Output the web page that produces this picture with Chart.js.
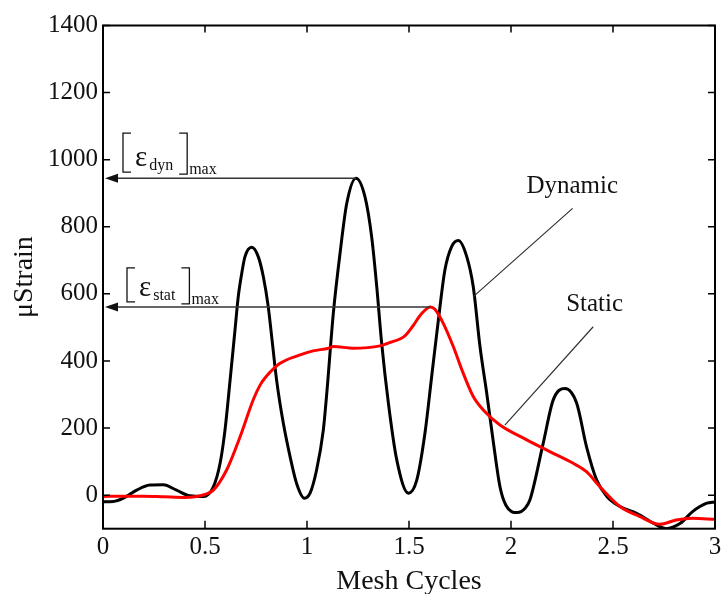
<!DOCTYPE html>
<html>
<head>
<meta charset="utf-8">
<script src="https://cdn.jsdelivr.net/npm/chart.js@4.4.1/dist/chart.umd.min.js"></script>
<style>
html, body { margin: 0; padding: 0; background: #fff; }
</style>
</head>
<body>
<canvas id="strainChart" width="721" height="594"></canvas>
<script>
// dynamic strain (black curve)
const dynX = [0, 0.05, 0.1, 0.165, 0.23, 0.296, 0.36, 0.426, 0.492, 0.541, 0.574, 0.598, 0.623, 0.647, 0.663, 0.68, 0.696, 0.729, 0.761, 0.786, 0.81, 0.827, 0.851, 0.884, 0.917, 0.949, 0.987, 1.015, 1.047, 1.08, 1.097, 1.129, 1.162, 1.195, 1.24, 1.284, 1.317, 1.342, 1.366, 1.399, 1.44, 1.497, 1.538, 1.578, 1.611, 1.644, 1.676, 1.709, 1.742, 1.783, 1.815, 1.848, 1.881, 1.913, 1.946, 1.975, 2.03, 2.069, 2.093, 2.158, 2.207, 2.265, 2.322, 2.37, 2.42, 2.47, 2.534, 2.616, 2.7, 2.76, 2.83, 2.89, 2.96, 3];
const dynY = [-20, -19, -9, 15, 30, 31, 15, -2, -4, 25, 95, 194, 343, 492, 592, 661, 711, 739, 711, 651, 562, 472, 343, 214, 115, 35, -9, 6, 75, 194, 304, 542, 721, 870, 945, 890, 770, 621, 453, 274, 105, 6, 45, 184, 353, 522, 671, 741, 759, 711, 621, 443, 304, 160, 25, -30, -52, -39, -14, 155, 284, 318, 274, 145, 45, -4, -34, -54, -84, -100, -84, -49, -24, -20];

// static strain (red curve)
const statX = [0, 0.1, 0.2, 0.3, 0.4, 0.45, 0.5, 0.541, 0.606, 0.672, 0.737, 0.77, 0.802, 0.868, 0.966, 1.03, 1.105, 1.129, 1.227, 1.358, 1.407, 1.48, 1.52, 1.56, 1.605, 1.627, 1.668, 1.717, 1.766, 1.815, 1.864, 1.946, 2.077, 2.19, 2.305, 2.37, 2.436, 2.534, 2.632, 2.73, 2.81, 2.89, 3];
const statY = [-4, -3, -3, -5, -7, -5, 2, 15, 75, 174, 285, 328, 355, 393, 418, 430, 438, 443, 438, 445, 455, 475, 505, 540, 561, 554, 512, 443, 363, 294, 254, 209, 165, 130, 95, 70, 25, -34, -64, -87, -74, -69, -72];

// axes
const xTicks = [0, 0.5, 1, 1.5, 2, 2.5, 3];
const xTickLabels = ["0", "0.5", "1", "1.5", "2", "2.5", "3"];
const yTicks = [0, 200, 400, 600, 800, 1000, 1200, 1400];
const yTickLabels = ["0", "200", "400", "600", "800", "1000", "1200", "1400"];

const serif = "'Liberation Serif', 'Times New Roman', serif";
const ink = "#111";

function pts(xs, ys) {
  return xs.map((x, i) => ({ x: x, y: ys[i] }));
}

// [eps_sub]_max label with bracket lines
function maxLabel(ctx, x0, yA, sub, top, bot) {
  ctx.save();
  ctx.strokeStyle = ink;
  ctx.fillStyle = ink;
  ctx.lineWidth = 1.3;
  // left bracket
  ctx.beginPath();
  ctx.moveTo(x0 + 8, yA + top);
  ctx.lineTo(x0, yA + top);
  ctx.lineTo(x0, yA + bot);
  ctx.lineTo(x0 + 8, yA + bot);
  ctx.stroke();
  let x = x0 + 12;
  ctx.textBaseline = "alphabetic";
  ctx.textAlign = "left";
  ctx.font = "29px " + serif;
  ctx.fillText("ε", x, yA + bot - 6);
  x += ctx.measureText("ε").width + 2;
  ctx.font = "16px " + serif;
  ctx.fillText(sub, x, yA + bot - 2);
  x += ctx.measureText(sub).width + 6;
  // right bracket
  ctx.beginPath();
  ctx.moveTo(x, yA + top);
  ctx.lineTo(x + 8, yA + top);
  ctx.lineTo(x + 8, yA + bot + 2);
  ctx.lineTo(x, yA + bot + 2);
  ctx.stroke();
  ctx.font = "16px " + serif;
  ctx.fillText("max", x + 10, yA + bot + 2);
  ctx.restore();
}

function arrowLeft(ctx, xFrom, xTip, y) {
  ctx.save();
  ctx.strokeStyle = "#333";
  ctx.fillStyle = "#111";
  ctx.lineWidth = 1.5;
  ctx.beginPath();
  ctx.moveTo(xFrom, y);
  ctx.lineTo(xTip + 10, y);
  ctx.stroke();
  ctx.beginPath();
  ctx.moveTo(xTip, y);
  ctx.lineTo(xTip + 13, y - 4.5);
  ctx.lineTo(xTip + 13, y + 4.5);
  ctx.closePath();
  ctx.fill();
  ctx.restore();
}

const framePlugin = {
  id: "frame",
  afterDatasetsDraw(chart) {
    const ctx = chart.ctx;
    const a = chart.chartArea;
    const xs = chart.scales.x, ys = chart.scales.y;

    // box
    ctx.save();
    ctx.strokeStyle = "#000";
    ctx.lineWidth = 2;
    ctx.strokeRect(a.left, a.top, a.right - a.left, a.bottom - a.top);

    // inner ticks on all sides
    ctx.lineWidth = 1.5;
    ctx.beginPath();
    xTicks.forEach(v => {
      const px = xs.getPixelForValue(v);
      ctx.moveTo(px, a.bottom); ctx.lineTo(px, a.bottom - 8);
      ctx.moveTo(px, a.top); ctx.lineTo(px, a.top + 7);
    });
    yTicks.forEach(v => {
      const py = ys.getPixelForValue(v);
      ctx.moveTo(a.left, py); ctx.lineTo(a.left + 7, py);
      ctx.moveTo(a.right, py); ctx.lineTo(a.right - 7, py);
    });
    ctx.stroke();
    ctx.restore();

    // max arrows
    const dMax = Math.max(...dynY), dAt = dynX[dynY.indexOf(dMax)];
    const sMax = Math.max(...statY), sAt = statX[statY.indexOf(sMax)];
    const yD = ys.getPixelForValue(dMax);
    const yS = ys.getPixelForValue(sMax);
    arrowLeft(ctx, xs.getPixelForValue(dAt), a.left + 2, yD);
    arrowLeft(ctx, xs.getPixelForValue(sAt), a.left + 2, yS);
    maxLabel(ctx, a.left + 20, yD, "dyn", -45, -6);
    maxLabel(ctx, a.left + 24, yS, "stat", -39, -5);

    // leader lines
    ctx.save();
    ctx.strokeStyle = "#333";
    ctx.lineWidth = 1.2;
    ctx.beginPath();
    ctx.moveTo(xs.getPixelForValue(2.302), ys.getPixelForValue(855));
    ctx.lineTo(xs.getPixelForValue(1.814), ys.getPixelForValue(591));
    ctx.moveTo(xs.getPixelForValue(2.403), ys.getPixelForValue(502));
    ctx.lineTo(xs.getPixelForValue(1.97), ys.getPixelForValue(209));
    ctx.stroke();

    ctx.fillStyle = ink;
    ctx.font = "25px " + serif;
    ctx.textAlign = "center";
    ctx.textBaseline = "alphabetic";
    ctx.fillText("Dynamic", xs.getPixelForValue(2.3), ys.getPixelForValue(901));
    ctx.fillText("Static", xs.getPixelForValue(2.41), ys.getPixelForValue(550));
    ctx.restore();
  }
};

new Chart(
document.getElementById("strainChart"),
{
type: "line",
data: {
datasets: [
{
label: "Static",
data: pts(statX, statY),
borderColor: "#ff0000",
borderWidth: 3,
pointRadius: 0,
cubicInterpolationMode: "monotone"
},
{
label: "Dynamic",
data: pts(dynX, dynY),
borderColor: "#000000",
borderWidth: 3,
pointRadius: 0,
cubicInterpolationMode: "monotone"
}
]
},
options: {
responsive: false,
animation: false,
layout: { padding: { top: 25.5, right: 6, left: 0, bottom: 0 } },
plugins: { legend: { display: false }, tooltip: { enabled: false } },
scales: {
x: {
type: "linear",
min: 0,
max: 3,
afterBuildTicks: s => { s.ticks = xTicks.map(v => ({ value: v })); },
afterFit: s => { s.height = 65.3; s.paddingLeft = 0; s.paddingRight = 0; },
grid: { display: false, drawTicks: false },
border: { display: false },
ticks: {
callback: v => xTickLabels[xTicks.indexOf(v)],
font: { family: serif, size: 25 },
color: ink,
padding: 4,
maxRotation: 0,
autoSkip: false
},
title: {
display: true,
text: "Mesh Cycles",
font: { family: serif, size: 28, lineHeight: 0.9 },
color: ink,
padding: 0
}
},
y: {
min: -100,
max: 1400,
afterBuildTicks: s => { s.ticks = yTicks.map(v => ({ value: v })); },
afterFit: s => { s.width = 103; s.paddingTop = 0; s.paddingBottom = 0; },
grid: { display: false, drawTicks: false },
border: { display: false },
ticks: {
callback: v => yTickLabels[yTicks.indexOf(v)],
font: { family: serif, size: 25 },
color: ink,
padding: 5
},
title: {
display: true,
text: "μStrain",
font: { family: serif, size: 28 },
color: ink,
padding: { top: 8, bottom: 0 }
}
}
}
},
plugins: [framePlugin]
}
);
</script>
</body>
</html>
